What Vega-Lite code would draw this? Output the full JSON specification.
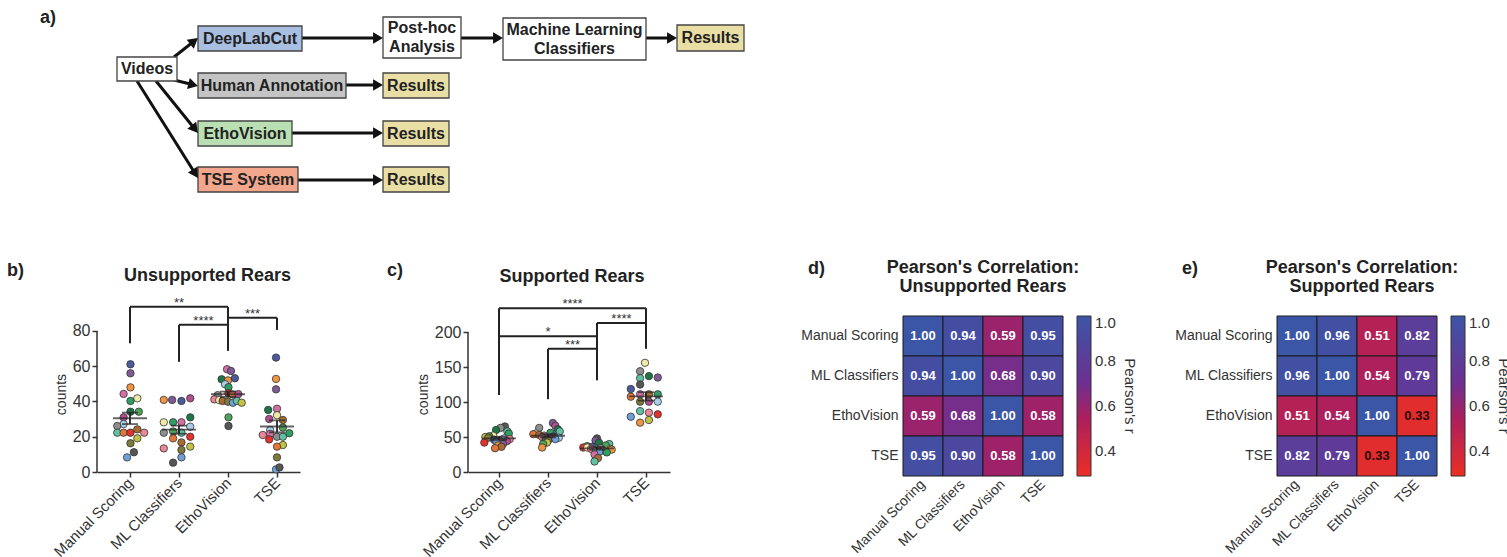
{
"$schema":"https://vega.github.io/schema/vega-lite/v6.json",
"background":"white",
"padding":0,
"config":{"view":{"stroke":null},"font":"Liberation Sans","axis":{"grid":false,"labelOverlap":false,"labelFlush":false}},
"bounds":"flush",
"spacing":116,
"resolve":{"scale":{"x":"independent","y":"independent","color":"independent"}},
"vconcat":[
{
"width":1507,"height":200,
"layer":[
{"data":{"values":[{"x1":302,"y1":38,"x2":383,"y2":38},{"x1":461,"y1":38,"x2":503,"y2":38},{"x1":646,"y1":38,"x2":677,"y2":38},{"x1":346,"y1":85,"x2":383,"y2":85},{"x1":292,"y1":133,"x2":383,"y2":133},{"x1":298,"y1":180,"x2":383,"y2":180},{"x1":174,"y1":57,"x2":198,"y2":38},{"x1":174,"y1":80,"x2":198,"y2":86},{"x1":156,"y1":81,"x2":198,"y2":133},{"x1":137,"y1":81,"x2":198,"y2":178}]},
"transform":[{"calculate":"datum.x2-datum.x1","as":"ddx"},{"calculate":"datum.y2-datum.y1","as":"ddy"},{"calculate":"sqrt(datum.ddx*datum.ddx+datum.ddy*datum.ddy)","as":"len"},{"calculate":"datum.x2-8*datum.ddx/datum.len","as":"lx"},{"calculate":"datum.y2-8*datum.ddy/datum.len","as":"ly"}],
"mark":{"type":"rule","color":"#111","strokeWidth":3},
"encoding":{"x":{"field":"x1","type":"quantitative","scale":{"domain":[0,1507],"nice":false,"zero":false},"axis":null},"y":{"field":"y1","type":"quantitative","scale":{"domain":[0,200],"reverse":true,"nice":false,"zero":false},"axis":null},"x2":{"field":"lx"},"y2":{"field":"ly"}}},
{"data":{"values":[{"k":"plain","x1":117,"x2":177,"y1":57,"y2":81,"t":"Videos"},{"k":"dlc","x1":198,"x2":302,"y1":26,"y2":51,"t":"DeepLabCut"},{"k":"human","x1":198,"x2":346,"y1":73,"y2":98,"t":"Human Annotation"},{"k":"etho","x1":198,"x2":292,"y1":121,"y2":146,"t":"EthoVision"},{"k":"tse","x1":198,"x2":298,"y1":167,"y2":192,"t":"TSE System"},{"k":"plain","x1":383,"x2":461,"y1":17,"y2":58,"t":"Post-hoc\nAnalysis"},{"k":"plain","x1":503,"x2":646,"y1":18,"y2":60,"t":"Machine Learning\nClassifiers"},{"k":"result","x1":677,"x2":744,"y1":25,"y2":51,"t":"Results"},{"k":"result","x1":383,"x2":449,"y1":73,"y2":98,"t":"Results"},{"k":"result","x1":383,"x2":449,"y1":121,"y2":146,"t":"Results"},{"k":"result","x1":383,"x2":449,"y1":167,"y2":192,"t":"Results"}]},
"layer":[
{"mark":{"type":"rect","stroke":"#444","strokeWidth":1.3},
"encoding":{"x":{"field":"x1","type":"quantitative","scale":{"domain":[0,1507],"nice":false,"zero":false},"axis":null},"x2":{"field":"x2"},"y":{"field":"y1","type":"quantitative","scale":{"domain":[0,200],"reverse":true,"nice":false,"zero":false},"axis":null},"y2":{"field":"y2"},"fill":{"field":"k","type":"nominal","scale":{"domain":["plain","dlc","human","etho","tse","result"],"range":["#ffffff","#a9bfe2","#c4c4c4","#b9dfb3","#f2a68c","#e9dea4"]},"legend":null}}},
{"transform":[{"calculate":"(datum.x1+datum.x2)/2","as":"cx"},{"calculate":"(datum.y1+datum.y2)/2-(length(split(datum.t,'\\n'))-1)*9.5","as":"cy"}],
"mark":{"type":"text","fontSize":16,"fontWeight":"bold","color":"#222","align":"center","baseline":"middle","lineBreak":"\n","lineHeight":19},
"encoding":{"x":{"field":"cx","type":"quantitative","scale":{"domain":[0,1507],"nice":false,"zero":false},"axis":null},"y":{"field":"cy","type":"quantitative","scale":{"domain":[0,200],"reverse":true,"nice":false,"zero":false},"axis":null},"text":{"field":"t"}}}
]},
{"data":{"values":[{"x1":302,"y1":38,"x2":383,"y2":38},{"x1":461,"y1":38,"x2":503,"y2":38},{"x1":646,"y1":38,"x2":677,"y2":38},{"x1":346,"y1":85,"x2":383,"y2":85},{"x1":292,"y1":133,"x2":383,"y2":133},{"x1":298,"y1":180,"x2":383,"y2":180},{"x1":174,"y1":57,"x2":198,"y2":38},{"x1":174,"y1":80,"x2":198,"y2":86},{"x1":156,"y1":81,"x2":198,"y2":133},{"x1":137,"y1":81,"x2":198,"y2":178}]},
"transform":[{"calculate":"datum.x2-datum.x1","as":"ddx"},{"calculate":"datum.y2-datum.y1","as":"ddy"},{"calculate":"sqrt(datum.ddx*datum.ddx+datum.ddy*datum.ddy)","as":"len"},{"calculate":"datum.x2-5*datum.ddx/datum.len","as":"hx"},{"calculate":"datum.y2-5*datum.ddy/datum.len","as":"hy"},{"calculate":"atan2(datum.ddx,-datum.ddy)*180/PI","as":"ang"}],
"mark":{"type":"point","shape":"triangle-up","filled":true,"size":130,"color":"#111","opacity":1},
"encoding":{"x":{"field":"hx","type":"quantitative","scale":{"domain":[0,1507],"nice":false,"zero":false},"axis":null},"y":{"field":"hy","type":"quantitative","scale":{"domain":[0,200],"reverse":true,"nice":false,"zero":false},"axis":null},"angle":{"field":"ang","type":"quantitative","scale":{"domain":[0,360],"range":[0,360]}}}},
{"data":{"values":[{"t":"a)","x":40,"y":18}]},
"mark":{"type":"text","fontSize":18,"fontWeight":"bold","color":"#222","align":"left","baseline":"middle"},
"encoding":{"x":{"field":"x","type":"quantitative","scale":{"domain":[0,1507],"nice":false,"zero":false},"axis":null},"y":{"field":"y","type":"quantitative","scale":{"domain":[0,200],"reverse":true,"nice":false,"zero":false},"axis":null},"text":{"field":"t"}}}
]
},
{
"bounds":"flush",
"spacing":0,
"resolve":{"scale":{"x":"independent","y":"independent","color":"independent"},"legend":{"color":"independent"}},
"hconcat":[
{"width":97,"height":156,"data":{"values":[]},"mark":"point","encoding":{},
"title":{"text":"b)","anchor":"start","dx":7,"offset":18,"fontSize":18,"fontWeight":"bold","color":"#222","baseline":"bottom"}},
{
"width":203,"height":156,
"title":{"text":"Unsupported Rears","fontSize":18,"fontWeight":"bold","color":"#222","anchor":"middle","dx":9,"offset":12},
"layer":[
{"data":{"values":[
{"g":"MS","v":61.1,"dx":0.01,"m":1},{"g":"MS","v":56.0,"dx":0.01,"m":2},{"g":"MS","v":48.0,"dx":0.01,"m":3},{"g":"MS","v":44.3,"dx":-0.13,"m":4},{"g":"MS","v":41.8,"dx":0.15,"m":5},{"g":"MS","v":40.3,"dx":0.01,"m":6},{"g":"MS","v":34.2,"dx":0.01,"m":7},{"g":"MS","v":34.2,"dx":0.18,"m":20},{"g":"MS","v":31.0,"dx":-0.13,"m":8},{"g":"MS","v":27.2,"dx":-0.13,"m":10},{"g":"MS","v":26.1,"dx":-0.26,"m":9},{"g":"MS","v":22.3,"dx":-0.26,"m":11},{"g":"MS","v":22.3,"dx":-0.13,"m":12},{"g":"MS","v":22.3,"dx":0.01,"m":13},{"g":"MS","v":24.2,"dx":0.15,"m":19},{"g":"MS","v":22.3,"dx":0.29,"m":14},{"g":"MS","v":19.1,"dx":0.15,"m":15},{"g":"MS","v":16.3,"dx":0.01,"m":16},{"g":"MS","v":11.2,"dx":0.08,"m":17},{"g":"MS","v":8.3,"dx":-0.06,"m":18},
{"g":"ML","v":40.9,"dx":-0.31,"m":3},{"g":"ML","v":40.9,"dx":-0.14,"m":2},{"g":"ML","v":40.3,"dx":0.05,"m":1},{"g":"ML","v":41.8,"dx":0.23,"m":8},{"g":"ML","v":31.0,"dx":0.23,"m":7},{"g":"ML","v":28.2,"dx":-0.31,"m":5},{"g":"ML","v":28.2,"dx":-0.12,"m":6},{"g":"ML","v":28.2,"dx":0.05,"m":4},{"g":"ML","v":25.7,"dx":0.23,"m":10},{"g":"ML","v":22.3,"dx":-0.31,"m":9},{"g":"ML","v":23.0,"dx":-0.12,"m":20},{"g":"ML","v":22.3,"dx":0.05,"m":11},{"g":"ML","v":19.1,"dx":-0.12,"m":12},{"g":"ML","v":20.0,"dx":0.23,"m":13},{"g":"ML","v":16.8,"dx":0.05,"m":19},{"g":"ML","v":13.4,"dx":-0.31,"m":14},{"g":"ML","v":14.4,"dx":0.23,"m":15},{"g":"ML","v":12.5,"dx":0.05,"m":16},{"g":"ML","v":8.3,"dx":0.05,"m":18},{"g":"ML","v":5.3,"dx":-0.12,"m":17},
{"g":"EV","v":58.3,"dx":-0.02,"m":4},{"g":"EV","v":57.3,"dx":0.06,"m":2},{"g":"EV","v":52.6,"dx":-0.13,"m":7},{"g":"EV","v":52.0,"dx":0.0,"m":3},{"g":"EV","v":53.2,"dx":0.14,"m":1},{"g":"EV","v":49.8,"dx":-0.06,"m":10},{"g":"EV","v":48.1,"dx":0.01,"m":6},{"g":"EV","v":44.7,"dx":0.01,"m":13},{"g":"EV","v":44.0,"dx":0.1,"m":12},{"g":"EV","v":44.2,"dx":0.21,"m":8},{"g":"EV","v":43.6,"dx":-0.21,"m":9},{"g":"EV","v":41.2,"dx":-0.28,"m":14},{"g":"EV","v":40.8,"dx":-0.18,"m":5},{"g":"EV","v":40.3,"dx":-0.11,"m":19},{"g":"EV","v":39.9,"dx":0.0,"m":16},{"g":"EV","v":39.3,"dx":0.1,"m":18},{"g":"EV","v":40.3,"dx":0.18,"m":11},{"g":"EV","v":39.3,"dx":0.28,"m":15},{"g":"EV","v":31.0,"dx":0.01,"m":20},{"g":"EV","v":26.1,"dx":0.01,"m":17},
{"g":"TSE","v":64.9,"dx":-0.02,"m":1},{"g":"TSE","v":52.8,"dx":-0.02,"m":3},{"g":"TSE","v":46.9,"dx":-0.02,"m":2},{"g":"TSE","v":35.2,"dx":-0.18,"m":7},{"g":"TSE","v":35.9,"dx":0.0,"m":4},{"g":"TSE","v":32.2,"dx":0.0,"m":5},{"g":"TSE","v":30.1,"dx":-0.16,"m":8},{"g":"TSE","v":29.5,"dx":0.12,"m":19},{"g":"TSE","v":25.2,"dx":0.12,"m":20},{"g":"TSE","v":23.8,"dx":-0.14,"m":10},{"g":"TSE","v":21.0,"dx":-0.29,"m":14},{"g":"TSE","v":21.6,"dx":-0.14,"m":4},{"g":"TSE","v":20.0,"dx":0.0,"m":9},{"g":"TSE","v":20.0,"dx":0.12,"m":11},{"g":"TSE","v":22.0,"dx":0.25,"m":6},{"g":"TSE","v":18.5,"dx":-0.16,"m":13},{"g":"TSE","v":15.3,"dx":0.12,"m":15},{"g":"TSE","v":14.4,"dx":0.0,"m":12},{"g":"TSE","v":8.3,"dx":0.0,"m":16},{"g":"TSE","v":1.5,"dx":-0.02,"m":18},{"g":"TSE","v":2.6,"dx":0.05,"m":17}
]},
"transform":[{"calculate":"indexof(['MS','ML','EV','TSE'],datum.g)+1+datum.dx","as":"xp"}],
"mark":{"type":"circle","size":55,"opacity":1,"stroke":"#333","strokeWidth":0.8},
"encoding":{"x":{"field":"xp","type":"quantitative","scale":{"domain":[0.327,4.469],"nice":false,"zero":false},
"axis":{"title":null,"values":[1,2,3,4],"labelExpr":"datum.value == 1 ? 'Manual Scoring' : datum.value == 2 ? 'ML Classifiers' : datum.value == 3 ? 'EthoVision' : 'TSE'","labelAngle":-45,"labelAlign":"right","labelBaseline":"middle","labelFontSize":15,"labelColor":"#333","labelPadding":3,"labelOverlap":false,"labelFlush":false,"tickSize":5,"tickWidth":1.5,"tickColor":"#333","domainColor":"#333","domainWidth":1.5}},
"y":{"field":"v","type":"quantitative","scale":{"domain":[0,88.5],"nice":false,"zero":false},
"axis":{"title":"counts","values":[0,20,40,60,80],"tickCount":5,"domain":false,"labelFontSize":16,"labelColor":"#333","labelPadding":2,"labelFlush":false,"labelOverlap":false,"tickSize":5,"tickWidth":1.5,"tickColor":"#333","titleFontSize":14,"titleFontWeight":"normal","titleColor":"#333","titlePadding":4}},
"color":{"field":"m","type":"nominal","scale":{"domain":[1,2,3,4,5,6,7,8,9,10,11,12,13,14,15,16,17,18,19,20],"range":["#4d5a9c","#7e5b95","#ef9442","#d070a3","#f0eaa8","#2e9f63","#1d7646","#b24f8e","#8e8e8e","#a9cce9","#62c1a3","#e2773c","#e1322d","#ea8698","#c2c246","#7f7a3a","#565656","#6f9fd8","#a86b32","#4fa35a"]},"legend":null}}},
{"data":{"values":[{"x":0.327,"y0":0,"y1":80}]},"mark":{"type":"rule","color":"#333","strokeWidth":1.5},
"encoding":{"x":{"field":"x","type":"quantitative","scale":{"domain":[0.327,4.469],"nice":false,"zero":false}},
"y":{"field":"y0","type":"quantitative","scale":{"domain":[0,88.5],"nice":false,"zero":false}},
"y2":{"field":"y1"}}},
{"data":{"values":[{"g":"MS","lo":27.2,"hi":33.7},{"g":"ML","lo":21.7,"hi":26.3},{"g":"EV","lo":42.6,"hi":45.6},{"g":"TSE","lo":22.5,"hi":29.3}]},
"transform":[{"calculate":"indexof(['MS','ML','EV','TSE'],datum.g)+1","as":"gi"}],
"mark":{"type":"rule","color":"#222","strokeWidth":1.8},
"encoding":{"x":{"field":"gi","type":"quantitative","scale":{"domain":[0.327,4.469],"nice":false,"zero":false}},"y":{"field":"lo","type":"quantitative","scale":{"domain":[0,88.5],"nice":false,"zero":false}},"y2":{"field":"hi"}}},
{"data":{"values":[{"g":"MS","c":27.2},{"g":"MS","c":33.7},{"g":"ML","c":21.7},{"g":"ML","c":26.3},{"g":"EV","c":42.6},{"g":"EV","c":45.6},{"g":"TSE","c":22.5},{"g":"TSE","c":29.3}]},
"transform":[{"calculate":"indexof(['MS','ML','EV','TSE'],datum.g)+1","as":"gi"}],
"mark":{"type":"tick","orient":"horizontal","size":16,"thickness":1.8,"color":"#222"},
"encoding":{"x":{"field":"gi","type":"quantitative","scale":{"domain":[0.327,4.469],"nice":false,"zero":false}},"y":{"field":"c","type":"quantitative","scale":{"domain":[0,88.5],"nice":false,"zero":false}}}},
{"data":{"values":[{"g":"MS","mean":30.5},{"g":"ML","mean":24.0},{"g":"EV","mean":44.1},{"g":"TSE","mean":25.8}]},
"transform":[{"calculate":"indexof(['MS','ML','EV','TSE'],datum.g)+1","as":"gi"}],
"mark":{"type":"tick","orient":"horizontal","size":34,"thickness":1.8,"color":"#222"},
"encoding":{"x":{"field":"gi","type":"quantitative","scale":{"domain":[0.327,4.469],"nice":false,"zero":false}},"y":{"field":"mean","type":"quantitative","scale":{"domain":[0,88.5],"nice":false,"zero":false}}}},
{"data":{"values":[{"i1":1,"i2":3,"top":93.7},{"i1":2,"i2":3,"top":83.5},{"i1":3,"i2":4,"top":87.5}]},
"mark":{"type":"rule","color":"#222","strokeWidth":2},
"encoding":{"x":{"field":"i1","type":"quantitative","scale":{"domain":[0.327,4.469],"nice":false,"zero":false}},"x2":{"field":"i2"},"y":{"field":"top","type":"quantitative","scale":{"domain":[0,88.5],"nice":false,"zero":false}}}},
{"data":{"values":[{"i":1,"b":73,"top":93.7},{"i":3,"b":68.7,"top":93.7},{"i":2,"b":62.5,"top":83.5},{"i":4,"b":80.6,"top":87.5}]},
"mark":{"type":"rule","color":"#222","strokeWidth":2},
"encoding":{"x":{"field":"i","type":"quantitative","scale":{"domain":[0.327,4.469],"nice":false,"zero":false}},"y":{"field":"b","type":"quantitative","scale":{"domain":[0,88.5],"nice":false,"zero":false}},"y2":{"field":"top"}}},
{"data":{"values":[{"i1":1,"i2":3,"top":93.7,"s":"**"},{"i1":2,"i2":3,"top":83.5,"s":"****"},{"i1":3,"i2":4,"top":87.5,"s":"***"}]},
"transform":[{"calculate":"(datum.i1+datum.i2)/2","as":"mid"}],
"mark":{"type":"text","fontSize":13,"color":"#333","baseline":"alphabetic","align":"center"},
"encoding":{"x":{"field":"mid","type":"quantitative","scale":{"domain":[0.327,4.469],"nice":false,"zero":false}},"y":{"field":"top","type":"quantitative","scale":{"domain":[0,88.5],"nice":false,"zero":false}},"text":{"field":"s"}}}
]},
{"width":168,"height":156,"data":{"values":[]},"mark":"point","encoding":{},
"title":{"text":"c)","anchor":"start","dx":87,"offset":18,"fontSize":18,"fontWeight":"bold","color":"#222","baseline":"bottom"}},
{
"width":202,"height":156,
"title":{"text":"Supported Rears","fontSize":18,"fontWeight":"bold","color":"#222","anchor":"middle","dx":3,"offset":12},
"layer":[
{"data":{"values":[
{"g":"MS","v":65,"dx":0.12,"m":17},{"g":"MS","v":63,"dx":0.03,"m":9},{"g":"MS","v":60,"dx":-0.06,"m":7},{"g":"MS","v":58,"dx":0.17,"m":11},{"g":"MS","v":55,"dx":0.2,"m":6},{"g":"MS","v":52,"dx":-0.12,"m":5},{"g":"MS","v":51,"dx":-0.2,"m":20},{"g":"MS","v":50,"dx":-0.28,"m":15},{"g":"MS","v":49,"dx":-0.22,"m":16},{"g":"MS","v":48,"dx":0.1,"m":10},{"g":"MS","v":47,"dx":0.22,"m":14},{"g":"MS","v":46,"dx":-0.1,"m":1},{"g":"MS","v":45,"dx":0.0,"m":4},{"g":"MS","v":44,"dx":0.16,"m":8},{"g":"MS","v":43,"dx":-0.05,"m":18},{"g":"MS","v":42,"dx":-0.3,"m":13},{"g":"MS","v":40,"dx":0.08,"m":2},{"g":"MS","v":38,"dx":-0.02,"m":3},{"g":"MS","v":36,"dx":0.05,"m":19},{"g":"MS","v":34,"dx":-0.08,"m":12},
{"g":"ML","v":70,"dx":0.1,"m":2},{"g":"ML","v":66,"dx":0.15,"m":8},{"g":"ML","v":63,"dx":-0.18,"m":9},{"g":"ML","v":61,"dx":0.2,"m":7},{"g":"ML","v":58,"dx":0.24,"m":11},{"g":"ML","v":56,"dx":0.05,"m":6},{"g":"ML","v":55,"dx":-0.25,"m":5},{"g":"ML","v":54,"dx":-0.3,"m":12},{"g":"ML","v":53,"dx":-0.18,"m":19},{"g":"ML","v":52,"dx":-0.08,"m":4},{"g":"ML","v":51,"dx":0.12,"m":1},{"g":"ML","v":50,"dx":-0.12,"m":14},{"g":"ML","v":49,"dx":0.22,"m":10},{"g":"ML","v":48,"dx":0.05,"m":13},{"g":"ML","v":47,"dx":0.15,"m":18},{"g":"ML","v":46,"dx":-0.05,"m":17},{"g":"ML","v":45,"dx":0.0,"m":16},{"g":"ML","v":42,"dx":-0.02,"m":15},{"g":"ML","v":40,"dx":-0.1,"m":20},{"g":"ML","v":35,"dx":-0.12,"m":3},
{"g":"EV","v":48,"dx":0.0,"m":17},{"g":"EV","v":45,"dx":-0.03,"m":2},{"g":"EV","v":42,"dx":0.04,"m":7},{"g":"EV","v":40,"dx":0.25,"m":11},{"g":"EV","v":38,"dx":0.18,"m":20},{"g":"EV","v":37,"dx":-0.2,"m":16},{"g":"EV","v":36,"dx":-0.1,"m":1},{"g":"EV","v":35,"dx":-0.28,"m":13},{"g":"EV","v":35,"dx":-0.2,"m":5},{"g":"EV","v":34,"dx":0.08,"m":9},{"g":"EV","v":33,"dx":-0.12,"m":14},{"g":"EV","v":33,"dx":0.28,"m":15},{"g":"EV","v":32,"dx":0.3,"m":3},{"g":"EV","v":31,"dx":0.12,"m":12},{"g":"EV","v":30,"dx":-0.02,"m":10},{"g":"EV","v":29,"dx":0.05,"m":18},{"g":"EV","v":28,"dx":0.2,"m":6},{"g":"EV","v":25,"dx":-0.05,"m":4},{"g":"EV","v":20,"dx":0.02,"m":19},{"g":"EV","v":15,"dx":-0.05,"m":11},
{"g":"TSE","v":156,"dx":-0.02,"m":5},{"g":"TSE","v":144,"dx":-0.12,"m":9},{"g":"TSE","v":134,"dx":-0.12,"m":11},{"g":"TSE","v":137,"dx":0.06,"m":7},{"g":"TSE","v":135,"dx":0.24,"m":2},{"g":"TSE","v":125,"dx":-0.12,"m":17},{"g":"TSE","v":118.6,"dx":-0.31,"m":1},{"g":"TSE","v":107.6,"dx":-0.31,"m":12},{"g":"TSE","v":111,"dx":-0.12,"m":4},{"g":"TSE","v":111,"dx":0.06,"m":19},{"g":"TSE","v":111,"dx":0.24,"m":6},{"g":"TSE","v":100.5,"dx":-0.12,"m":16},{"g":"TSE","v":100.5,"dx":0.06,"m":8},{"g":"TSE","v":100.5,"dx":0.24,"m":10},{"g":"TSE","v":87,"dx":-0.12,"m":11},{"g":"TSE","v":84.8,"dx":0.06,"m":14},{"g":"TSE","v":79,"dx":-0.31,"m":18},{"g":"TSE","v":82.4,"dx":0.24,"m":13},{"g":"TSE","v":74.3,"dx":0.06,"m":15},{"g":"TSE","v":70.5,"dx":-0.12,"m":3}
]},
"transform":[{"calculate":"indexof(['MS','ML','EV','TSE'],datum.g)+1+datum.dx","as":"xp"}],
"mark":{"type":"circle","size":55,"opacity":1,"stroke":"#333","strokeWidth":0.8},
"encoding":{"x":{"field":"xp","type":"quantitative","scale":{"domain":[0.367,4.49],"nice":false,"zero":false},
"axis":{"title":null,"values":[1,2,3,4],"labelExpr":"datum.value == 1 ? 'Manual Scoring' : datum.value == 2 ? 'ML Classifiers' : datum.value == 3 ? 'EthoVision' : 'TSE'","labelAngle":-45,"labelAlign":"right","labelBaseline":"middle","labelFontSize":15,"labelColor":"#333","labelPadding":3,"labelOverlap":false,"labelFlush":false,"tickSize":5,"tickWidth":1.5,"tickColor":"#333","domainColor":"#333","domainWidth":1.5}},
"y":{"field":"v","type":"quantitative","scale":{"domain":[0,222.9],"nice":false,"zero":false},
"axis":{"title":"counts","values":[0,50,100,150,200],"tickCount":5,"domain":false,"labelFontSize":16,"labelColor":"#333","labelPadding":2,"labelFlush":false,"labelOverlap":false,"tickSize":5,"tickWidth":1.5,"tickColor":"#333","titleFontSize":14,"titleFontWeight":"normal","titleColor":"#333","titlePadding":4}},
"color":{"field":"m","type":"nominal","scale":{"domain":[1,2,3,4,5,6,7,8,9,10,11,12,13,14,15,16,17,18,19,20],"range":["#4d5a9c","#7e5b95","#ef9442","#d070a3","#f0eaa8","#2e9f63","#1d7646","#b24f8e","#8e8e8e","#a9cce9","#62c1a3","#e2773c","#e1322d","#ea8698","#c2c246","#7f7a3a","#565656","#6f9fd8","#a86b32","#4fa35a"]},"legend":null}}},
{"data":{"values":[{"x":0.367,"y0":0,"y1":200}]},"mark":{"type":"rule","color":"#333","strokeWidth":1.5},
"encoding":{"x":{"field":"x","type":"quantitative","scale":{"domain":[0.367,4.49],"nice":false,"zero":false}},
"y":{"field":"y0","type":"quantitative","scale":{"domain":[0,222.9],"nice":false,"zero":false}},
"y2":{"field":"y1"}}},
{"data":{"values":[{"g":"MS","lo":45.8,"hi":50.4},{"g":"ML","lo":49.5,"hi":54.1},{"g":"EV","lo":31.8,"hi":35.8},{"g":"TSE","lo":102,"hi":114}]},
"transform":[{"calculate":"indexof(['MS','ML','EV','TSE'],datum.g)+1","as":"gi"}],
"mark":{"type":"rule","color":"#222","strokeWidth":1.8},
"encoding":{"x":{"field":"gi","type":"quantitative","scale":{"domain":[0.367,4.49],"nice":false,"zero":false}},"y":{"field":"lo","type":"quantitative","scale":{"domain":[0,222.9],"nice":false,"zero":false}},"y2":{"field":"hi"}}},
{"data":{"values":[{"g":"MS","c":45.8},{"g":"MS","c":50.4},{"g":"ML","c":49.5},{"g":"ML","c":54.1},{"g":"EV","c":31.8},{"g":"EV","c":35.8},{"g":"TSE","c":102},{"g":"TSE","c":114}]},
"transform":[{"calculate":"indexof(['MS','ML','EV','TSE'],datum.g)+1","as":"gi"}],
"mark":{"type":"tick","orient":"horizontal","size":16,"thickness":1.8,"color":"#222"},
"encoding":{"x":{"field":"gi","type":"quantitative","scale":{"domain":[0.367,4.49],"nice":false,"zero":false}},"y":{"field":"c","type":"quantitative","scale":{"domain":[0,222.9],"nice":false,"zero":false}}}},
{"data":{"values":[{"g":"MS","mean":48.1},{"g":"ML","mean":51.8},{"g":"EV","mean":33.8},{"g":"TSE","mean":108}]},
"transform":[{"calculate":"indexof(['MS','ML','EV','TSE'],datum.g)+1","as":"gi"}],
"mark":{"type":"tick","orient":"horizontal","size":34,"thickness":1.8,"color":"#222"},
"encoding":{"x":{"field":"gi","type":"quantitative","scale":{"domain":[0.367,4.49],"nice":false,"zero":false}},"y":{"field":"mean","type":"quantitative","scale":{"domain":[0,222.9],"nice":false,"zero":false}}}},
{"data":{"values":[{"i1":1,"i2":4,"top":234},{"i1":3,"i2":4,"top":213},{"i1":1,"i2":3,"top":194},{"i1":2,"i2":3,"top":176}]},
"mark":{"type":"rule","color":"#222","strokeWidth":2},
"encoding":{"x":{"field":"i1","type":"quantitative","scale":{"domain":[0.367,4.49],"nice":false,"zero":false}},"x2":{"field":"i2"},"y":{"field":"top","type":"quantitative","scale":{"domain":[0,222.9],"nice":false,"zero":false}}}},
{"data":{"values":[{"i":1,"b":110,"top":234},{"i":4,"b":176,"top":234},{"i":3,"b":131,"top":213},{"i":2,"b":104,"top":176}]},
"mark":{"type":"rule","color":"#222","strokeWidth":2},
"encoding":{"x":{"field":"i","type":"quantitative","scale":{"domain":[0.367,4.49],"nice":false,"zero":false}},"y":{"field":"b","type":"quantitative","scale":{"domain":[0,222.9],"nice":false,"zero":false}},"y2":{"field":"top"}}},
{"data":{"values":[{"i1":1,"i2":4,"top":234,"s":"****"},{"i1":3,"i2":4,"top":213,"s":"****"},{"i1":1,"i2":3,"top":194,"s":"*"},{"i1":2,"i2":3,"top":176,"s":"***"}]},
"transform":[{"calculate":"(datum.i1+datum.i2)/2","as":"mid"}],
"mark":{"type":"text","fontSize":13,"color":"#333","baseline":"alphabetic","align":"center"},
"encoding":{"x":{"field":"mid","type":"quantitative","scale":{"domain":[0.367,4.49],"nice":false,"zero":false}},"y":{"field":"top","type":"quantitative","scale":{"domain":[0,222.9],"nice":false,"zero":false}},"text":{"field":"s"}}}
]},
{"width":233,"height":156,"data":{"values":[]},"mark":"point","encoding":{},
"title":{"text":"d)","anchor":"start","dx":138,"offset":20,"fontSize":18,"fontWeight":"bold","color":"#222","baseline":"bottom"}},
{
"width":160,"height":160,
"data":{"values":[
{"rw":"Manual Scoring","cl":"Manual Scoring","r":1.00},{"rw":"Manual Scoring","cl":"ML Classifiers","r":0.94},{"rw":"Manual Scoring","cl":"EthoVision","r":0.59},{"rw":"Manual Scoring","cl":"TSE","r":0.95},
{"rw":"ML Classifiers","cl":"Manual Scoring","r":0.94},{"rw":"ML Classifiers","cl":"ML Classifiers","r":1.00},{"rw":"ML Classifiers","cl":"EthoVision","r":0.68},{"rw":"ML Classifiers","cl":"TSE","r":0.90},
{"rw":"EthoVision","cl":"Manual Scoring","r":0.59},{"rw":"EthoVision","cl":"ML Classifiers","r":0.68},{"rw":"EthoVision","cl":"EthoVision","r":1.00},{"rw":"EthoVision","cl":"TSE","r":0.58},
{"rw":"TSE","cl":"Manual Scoring","r":0.95},{"rw":"TSE","cl":"ML Classifiers","r":0.90},{"rw":"TSE","cl":"EthoVision","r":0.58},{"rw":"TSE","cl":"TSE","r":1.00}
]},
"title":{"text":["Pearson's Correlation:","Unsupported Rears"],"fontSize":18,"fontWeight":"bold","color":"#222","anchor":"middle","offset":20,"lineHeight":19},
"encoding":{
"x":{"field":"cl","type":"nominal","sort":["Manual Scoring","ML Classifiers","EthoVision","TSE"],"scale":{"paddingInner":0,"paddingOuter":0},"axis":{"title":null,"labelAngle":-45,"labelAlign":"right","labelBaseline":"middle","labelFontSize":14,"labelColor":"#333","ticks":false,"domain":false,"labelPadding":6}},
"y":{"field":"rw","type":"nominal","sort":["Manual Scoring","ML Classifiers","EthoVision","TSE"],"scale":{"paddingInner":0,"paddingOuter":0},"axis":{"title":null,"labelFontSize":14,"labelColor":"#333","ticks":false,"domain":false,"labelPadding":5}}
},
"layer":[
{"mark":{"type":"rect","stroke":"#1a1a1a","strokeWidth":1},
"encoding":{"color":{"field":"r","type":"quantitative","scale":{"type":"linear","domain":[0.29,0.55,0.7,1.0],"range":["#eb2f24","#ab1f5e","#6f2f91","#3b55a7"],"interpolate":"rgb"},
"legend":{"orient":"none","legendX":174,"legendY":0,"direction":"vertical","gradientLength":160,"gradientThickness":14,"title":"Pearson's r","titleOrient":"right","titleAngle":90,"titleAnchor":"middle","titleFontSize":15,"titleFontWeight":"normal","titleColor":"#333","titlePadding":6,"values":[0.4,0.6,0.8,1.0],"format":".1f","labelFontSize":15,"labelColor":"#333","labelOffset":4,"gradientStrokeColor":"#333","gradientStrokeWidth":1}}}},
{"mark":{"type":"text","fontSize":13,"fontWeight":"bold"},
"encoding":{"text":{"field":"r","type":"quantitative","format":".2f"},"color":{"condition":{"test":"datum.r < 0.4","value":"#2a0c0c"},"value":"#ffffff"}}}
]
},
{"width":214,"height":156,"data":{"values":[]},"mark":"point","encoding":{},
"title":{"text":"e)","anchor":"start","dx":119,"offset":20,"fontSize":18,"fontWeight":"bold","color":"#222","baseline":"bottom"}},
{
"width":160,"height":160,
"data":{"values":[
{"rw":"Manual Scoring","cl":"Manual Scoring","r":1.00},{"rw":"Manual Scoring","cl":"ML Classifiers","r":0.96},{"rw":"Manual Scoring","cl":"EthoVision","r":0.51},{"rw":"Manual Scoring","cl":"TSE","r":0.82},
{"rw":"ML Classifiers","cl":"Manual Scoring","r":0.96},{"rw":"ML Classifiers","cl":"ML Classifiers","r":1.00},{"rw":"ML Classifiers","cl":"EthoVision","r":0.54},{"rw":"ML Classifiers","cl":"TSE","r":0.79},
{"rw":"EthoVision","cl":"Manual Scoring","r":0.51},{"rw":"EthoVision","cl":"ML Classifiers","r":0.54},{"rw":"EthoVision","cl":"EthoVision","r":1.00},{"rw":"EthoVision","cl":"TSE","r":0.33},
{"rw":"TSE","cl":"Manual Scoring","r":0.82},{"rw":"TSE","cl":"ML Classifiers","r":0.79},{"rw":"TSE","cl":"EthoVision","r":0.33},{"rw":"TSE","cl":"TSE","r":1.00}
]},
"title":{"text":["Pearson's Correlation:","Supported Rears"],"fontSize":18,"fontWeight":"bold","color":"#222","anchor":"middle","dx":5,"offset":20,"lineHeight":19},
"encoding":{
"x":{"field":"cl","type":"nominal","sort":["Manual Scoring","ML Classifiers","EthoVision","TSE"],"scale":{"paddingInner":0,"paddingOuter":0},"axis":{"title":null,"labelAngle":-45,"labelAlign":"right","labelBaseline":"middle","labelFontSize":14,"labelColor":"#333","ticks":false,"domain":false,"labelPadding":6}},
"y":{"field":"rw","type":"nominal","sort":["Manual Scoring","ML Classifiers","EthoVision","TSE"],"scale":{"paddingInner":0,"paddingOuter":0},"axis":{"title":null,"labelFontSize":14,"labelColor":"#333","ticks":false,"domain":false,"labelPadding":5}}
},
"layer":[
{"mark":{"type":"rect","stroke":"#1a1a1a","strokeWidth":1},
"encoding":{"color":{"field":"r","type":"quantitative","scale":{"type":"linear","domain":[0.29,0.55,0.7,1.0],"range":["#eb2f24","#ab1f5e","#6f2f91","#3b55a7"],"interpolate":"rgb"},
"legend":{"orient":"none","legendX":174,"legendY":0,"direction":"vertical","gradientLength":160,"gradientThickness":14,"title":"Pearson's r","titleOrient":"right","titleAngle":90,"titleAnchor":"middle","titleFontSize":15,"titleFontWeight":"normal","titleColor":"#333","titlePadding":6,"values":[0.4,0.6,0.8,1.0],"format":".1f","labelFontSize":15,"labelColor":"#333","labelOffset":4,"gradientStrokeColor":"#333","gradientStrokeWidth":1}}}},
{"mark":{"type":"text","fontSize":13,"fontWeight":"bold"},
"encoding":{"text":{"field":"r","type":"quantitative","format":".2f"},"color":{"condition":{"test":"datum.r < 0.4","value":"#2a0c0c"},"value":"#ffffff"}}}
]
}
]
}
]
}
